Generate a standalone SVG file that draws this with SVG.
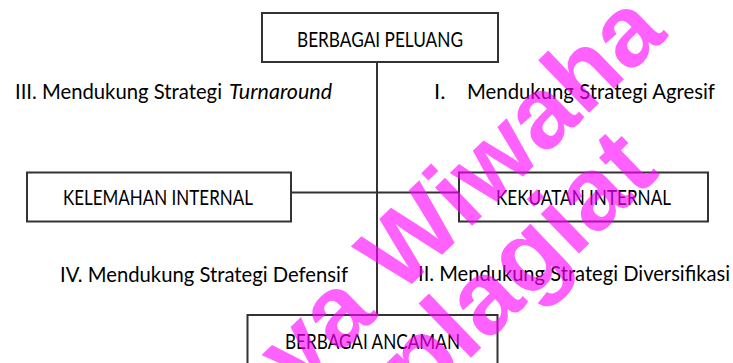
<svg xmlns="http://www.w3.org/2000/svg" width="733" height="363" viewBox="0 0 733 363">
<style>
.box{fill:#fff;stroke:#333;stroke-width:2}
.ln{stroke:#333;stroke-width:2;fill:none}
.t{font-family:Lato,"Open Sans",sans-serif;font-size:22px;fill:#000}
.wm{font-family:"Liberation Sans",Arial,sans-serif;font-weight:bold;fill:#ff00ff;fill-opacity:0.62}
</style>
<rect width="733" height="363" fill="#fff"/>
<g id="connectors">
<line class="ln" x1="377" y1="62" x2="377" y2="315"/>
<line class="ln" x1="291" y1="192.5" x2="459" y2="192.5"/>
</g>
<g id="peluang">
<rect class="box" x="262" y="13" width="236" height="49"/>
<text class="t" x="297" y="47" textLength="166" lengthAdjust="spacingAndGlyphs">BERBAGAI PELUANG</text>
</g>
<g id="kelemahan">
<rect class="box" x="27" y="172.5" width="264" height="49"/>
<text class="t" x="63" y="205" textLength="190" lengthAdjust="spacingAndGlyphs">KELEMAHAN INTERNAL</text>
</g>
<g id="kekuatan">
<rect class="box" x="459" y="172.5" width="249" height="49"/>
<text class="t" x="496" y="204.5" textLength="175" lengthAdjust="spacingAndGlyphs">KEKUATAN INTERNAL</text>
</g>
<g id="ancaman">
<rect class="box" x="247.5" y="315" width="250" height="60"/>
<text class="t" x="285" y="349" textLength="175" lengthAdjust="spacingAndGlyphs">BERBAGAI ANCAMAN</text>
</g>
<g id="q3">
<text class="t" x="15" y="99" textLength="207" lengthAdjust="spacingAndGlyphs">III. Mendukung Strategi</text>
<text class="t" x="229" y="99" font-style="italic" textLength="103" lengthAdjust="spacingAndGlyphs">Turnaround</text>
</g>
<g id="q1">
<text class="t" x="434" y="99">I.</text>
<text class="t" x="467" y="99" textLength="248" lengthAdjust="spacingAndGlyphs">Mendukung Strategi Agresif</text>
</g>
<g id="q4">
<text class="t" x="60" y="281.5" textLength="288" lengthAdjust="spacingAndGlyphs">IV. Mendukung Strategi Defensif</text>
</g>
<g id="q2">
<text class="t" x="418" y="281" textLength="312" lengthAdjust="spacingAndGlyphs">II. Mendukung Strategi Diversifikasi</text>
</g>
<g id="watermark">
<text class="wm" font-size="101" transform="translate(298,394) rotate(-44)">ya Wiwaha</text>
<text class="wm" font-size="104" transform="translate(420,407) rotate(-44)">plagiat</text>
</g>
</svg>
